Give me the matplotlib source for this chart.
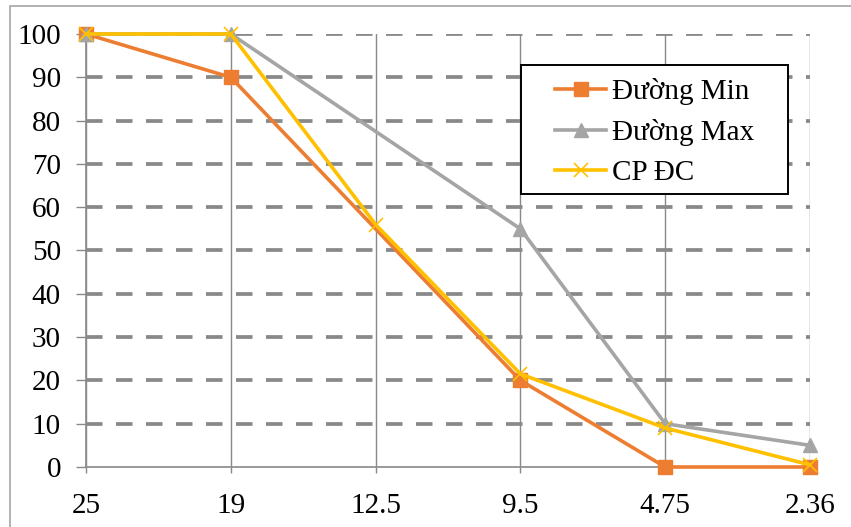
import numpy as np
import matplotlib
import matplotlib.pyplot as plt
from matplotlib.patches import Rectangle

matplotlib.use('Agg')

sieve_sizes = ['25', '19', '12.5', '9.5', '4.75', '2.36']
duong_min = [100, 90, np.nan, 20, 0, 0]
duong_max = [100, 100, np.nan, 55, 10, 5]
cp_dc = [100, 100, 56, 21.5, 9, 0.5]
y_ticks = [0, 10, 20, 30, 40, 50, 60, 70, 80, 90, 100]

plt.rcParams['font.family'] = ['Liberation Serif', 'DejaVu Serif']

fig = plt.figure(figsize=(8.51, 5.27), dpi=100)
ax = fig.add_axes([86 / 851, 1 - 467 / 527, (810 - 86) / 851, (467 - 34) / 527])

# chart area border
fig.patches.append(Rectangle((10 / 851, -0.1), 1.0, 1.1 - 6 / 527, transform=fig.transFigure,
                             fill=False, edgecolor='#a6a6a6', linewidth=1.2))

x = np.arange(len(sieve_sizes))


def draw_series(values, color, marker, label, ms, mew=1.0):
    values = np.array(values, dtype=float)
    ok = ~np.isnan(values)
    # gaps are bridged with a straight line, markers only on real points
    line, = ax.plot(x[ok], values[ok], color=color, linewidth=2.6, marker=marker,
                    markersize=ms, markeredgewidth=mew, label=label, clip_on=False, zorder=3)
    return line


draw_series(duong_min, '#ed7d31', 's', 'Đường Min', 10)
draw_series(duong_max, '#a5a5a5', '^', 'Đường Max', 10.5)
draw_series(cp_dc, '#ffc000', 'x', 'CP ĐC', 10, mew=1.2)

ax.set_xlim(0, len(sieve_sizes) - 1)
ax.set_ylim(0, 100)
ax.set_xticks(x)
ax.set_xticklabels(sieve_sizes)
ax.set_yticks(y_ticks)

# horizontal dashed grid, vertical solid grid
for v in y_ticks[1:]:
    ax.axhline(v, color='#898989', linewidth=2.7, linestyle=(0, (4.4, 3.6)), zorder=1)
for xi in x:
    ax.axvline(xi, color='#898989', linewidth=1.0, zorder=1)

for side in ['top', 'right']:
    ax.spines[side].set_visible(False)
for side in ['left', 'bottom']:
    ax.spines[side].set_color('#898989')
    ax.spines[side].set_linewidth(1.2)

ax.tick_params(axis='y', length=7, width=1.0, color='#898989', pad=11, labelsize=21)
ax.tick_params(axis='x', length=4, width=1.0, color='#898989', pad=15, labelsize=21)

# legend box drawn separately so its padding can differ per side
ax.add_patch(Rectangle((0.6008, 0.6305), 0.9696 - 0.6008, 0.9284 - 0.6305,
                       transform=ax.transAxes, facecolor='white', edgecolor='black',
                       linewidth=1.4, clip_on=False, zorder=4))
leg = ax.legend(loc='upper left', bbox_to_anchor=((555 - 86) / 724, (467 - 78) / 433),
                fontsize=21, frameon=False, handlelength=1.75,
                handletextpad=0.2, labelspacing=0.48, borderpad=0, borderaxespad=0)
leg.set_zorder(5)

plt.savefig('out.png', dpi=100)
